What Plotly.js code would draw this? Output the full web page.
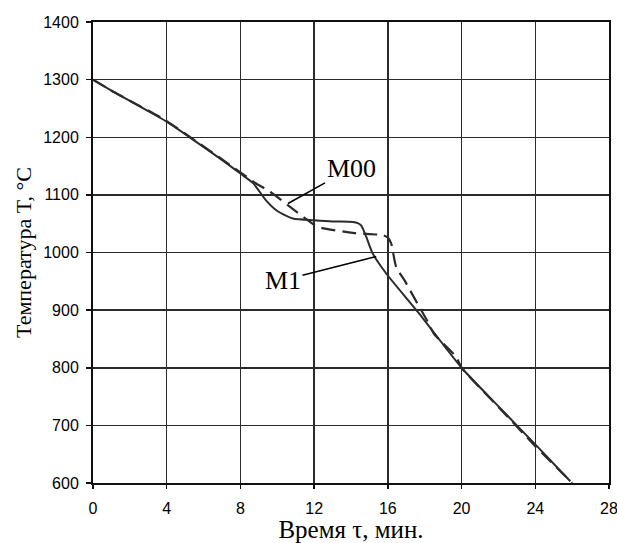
<!DOCTYPE html>
<html>
<head>
<meta charset="utf-8">
<script src="https://cdn.plot.ly/plotly-3.0.1.min.js"></script>
<style>
  html, body { margin: 0; padding: 0; background: #fff; }
  #chart { width: 617px; height: 543px; }
</style>
</head>
<body>
<div id="chart"></div>
<script>
// Cooling curves: temperature vs. time for two copper grades
const timeM1 = [0, 1.1, 2.9, 4, 5.6, 6.9, 8, 8.7, 9.4, 10.0, 10.85, 12, 13, 14.1, 14.37, 14.55, 14.83, 15.18, 15.9, 17.7, 20, 22, 24, 25.9];
const tempM1 = [1300, 1279, 1247, 1227, 1192, 1163, 1137, 1120, 1090, 1072, 1059, 1056, 1054, 1053, 1051, 1047, 1027, 998, 964, 894, 800, 733, 667, 603];

const timeM00 = [0, 1.1, 2.9, 4, 5.6, 6.9, 7.42, 8.23, 8.78, 9.63, 11.03, 12, 12.36, 14.1, 15.0, 15.73, 16.0, 16.18, 16.45, 16.9, 17.35, 17.7, 18.16, 18.5, 19.7, 20, 22, 24, 26];
const tempM00 = [1300, 1279, 1248, 1228, 1193, 1164, 1152, 1134, 1121, 1105, 1071, 1048, 1043, 1034, 1032, 1030, 1026, 1016, 975, 952, 926, 906, 880, 859, 819, 800, 732, 664, 600];

const xTicks = [0, 4, 8, 12, 16, 20, 24, 28];
const yTicks = [600, 700, 800, 900, 1000, 1100, 1200, 1300, 1400];

const ink = '#2b2b2b';

const traces = [
  {
    x: timeM1, y: tempM1, mode: 'lines', name: 'M1',
    line: { color: ink, width: 2, shape: 'spline', smoothing: 0.6 }
  },
  {
    x: timeM00, y: tempM00, mode: 'lines', name: 'M00',
    line: { color: ink, width: 2.2, dash: '14px,7px', shape: 'spline', smoothing: 0.6 }
  }
];

const serif = 'Liberation Serif, Times New Roman, serif';
const sans = 'Liberation Sans, Arial, sans-serif';

const layout = {
  width: 617, height: 543,
  margin: { l: 93, r: 8, t: 22, b: 60 },
  paper_bgcolor: '#fff', plot_bgcolor: '#fff',
  showlegend: false,
  xaxis: {
    range: [0, 28], tickvals: xTicks, ticktext: xTicks.map(String),
    showgrid: true, gridcolor: ink, gridwidth: 1.5,
    showline: true, linecolor: '#111', linewidth: 2, mirror: true,
    ticks: 'outside', ticklen: 4, tickcolor: '#111', tickwidth: 1.5,
    ticklabelstandoff: 6, ticklabeloverflow: 'allow',
    zeroline: false,
    tickfont: { family: sans, size: 16, color: '#000' },
    title: { text: 'Время τ, мин.', font: { family: serif, size: 25, color: '#000' }, standoff: 2 }
  },
  yaxis: {
    range: [600, 1400], tickvals: yTicks, ticktext: yTicks.map(String),
    showgrid: true, gridcolor: ink, gridwidth: 1.5,
    showline: true, linecolor: '#111', linewidth: 2, mirror: true,
    ticks: 'outside', ticklen: 5, tickcolor: '#111', tickwidth: 1.5,
    ticklabelstandoff: 4,
    zeroline: false,
    tickfont: { family: sans, size: 16, color: '#000' },
    title: { text: 'Температура T, °C', font: { family: serif, size: 22, color: '#000' }, standoff: 6 }
  },
  annotations: [
    {
      x: 10.58, y: 1085, ax: 14.0, ay: 1146, axref: 'x', ayref: 'y',
      text: 'M00', showarrow: true, arrowhead: 0, arrowwidth: 1.5, arrowcolor: '#000',
      standoff: 0, font: { family: serif, size: 26, color: '#000' }
    },
    {
      x: 15.37, y: 993, ax: 10.31, ay: 952, axref: 'x', ayref: 'y',
      text: 'M1', showarrow: true, arrowhead: 0, arrowwidth: 1.5, arrowcolor: '#000',
      standoff: 0, font: { family: serif, size: 26, color: '#000' }
    }
  ]
};

Plotly.newPlot('chart', traces, layout, { staticPlot: true, displayModeBar: false });
</script>
</body>
</html>
